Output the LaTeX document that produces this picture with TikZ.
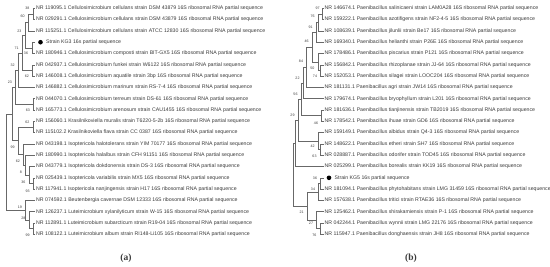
\documentclass[tikz,border=0pt]{standalone}
\usepackage{fontspec}
\setmainfont{Liberation Sans}
\newfontfamily\serifab{Liberation Serif}
\definecolor{ln}{HTML}{686868}
\definecolor{tx}{HTML}{3A3A3A}
\begin{document}
\begin{tikzpicture}[x=1pt,y=-1pt,
 br/.style={draw=ln,line width=0.45pt},
 leaf/.style={anchor=west,inner sep=0pt,font=\fontsize{5.2}{6}\selectfont,text=tx},
 bs/.style={inner sep=0pt,font=\fontsize{3.6}{3.8}\selectfont,text=tx},
 kdot/.style={circle,fill=black,inner sep=0pt,minimum size=4.6pt},
 captxt/.style={font=\serifab\bfseries\fontsize{9.5}{10}\selectfont,text=tx}]
\useasboundingbox (0,0) rectangle (550,266);
% ---------------- left tree leaves ----------------
\foreach \i/\t in {
1/NR 119095.1 Cellulosimicrobium cellulans strain DSM 43879 16S ribosomal RNA partial sequence,
2/NR 029291.1 Cellulosimicrobium cellulans strain DSM 43879 16S ribosomal RNA partial sequence,
3/NR 115251.1 Cellulosimicrobium cellulans strain ATCC 12830 16S ribosomal RNA partial sequence,
5/NR 180946.1 Cellulosimicrobium composti strain BIT-GX5 16S ribosomal RNA partial sequence,
6/NR 042937.1 Cellulosimicrobium funkei strain W6122 16S ribosomal RNA partial sequence,
7/NR 146008.1 Cellulosimicrobium aquatile strain 3bp 16S ribosomal RNA partial sequence,
8/NR 146882.1 Cellulosimicrobium marinum strain RS-7-4 16S ribosomal RNA partial sequence,
9/NR 044070.1 Cellulosimicrobium terreum strain DS-61 16S ribosomal RNA partial sequence,
10/NR 165773.1 Cellulosimicrobium arenosum strain CAU1455 16S ribosomal RNA partial sequence,
11/NR 156060.1 Krasilnikoviella muralis strain T6220-5-2b 16S ribosomal RNA partial sequence,
12/NR 115102.2 Krasilnikoviella flava strain CC 0387 16S ribosomal RNA partial sequence,
13/NR 043198.1 Isoptericola halotolerans strain YIM 70177 16S ribosomal RNA partial sequence,
14/NR 180990.1 Isoptericola halalbus strain CFH 91151 16S ribosomal RNA partial sequence,
15/NR 043779.1 Isoptericola dokdonensis strain DS-3 16S ribosomal RNA partial sequence,
16/NR 025439.1 Isoptericola variabilis strain MX5 16S ribosomal RNA partial sequence,
17/NR 117941.1 Isoptericola nanjingensis strain H17 16S ribosomal RNA partial sequence,
18/NR 074592.1 Beutenbergia cavernae DSM 12333 16S ribosomal RNA partial sequence,
19/NR 126237.1 Luteimicrobium xylanilyticum strain W-15 16S ribosomal RNA partial sequence,
20/NR 112891.1 Luteimicrobium subarcticum strain R19-04 16S ribosomal RNA partial sequence,
21/NR 108122.1 Luteimicrobium album strain RI148-Li105 16S ribosomal RNA partial sequence}{
  \coordinate (ta\i) at (35,{8.3+(\i-1)*11.3});
  \node[leaf] (La\i) at (36,{8.3+(\i-1)*11.3}) {\t};
}
\coordinate (ta4) at (35,42.2);
\node[kdot] (dotA) at (40.5,42.2) {};
\node[leaf] (La4) at (46,42.2) {Strain KG3 16s partial sequence};
% internal nodes (left)
\coordinate (A) at (33,13.95);
\coordinate (B) at (28.2,22.43);
\coordinate (C) at (32.5,47.85);
\coordinate (D) at (24.8,35.14);
\coordinate (E) at (32.5,70.45);
\coordinate (F) at (22.2,52.8);
\coordinate (G) at (18.2,70.1);
\coordinate (H) at (33,104.35);
\coordinate (I) at (15.5,87.23);
\coordinate (J) at (32.8,126.95);
\coordinate (P) at (33,183.45);
\coordinate (Q) at (28.8,174.98);
\coordinate (R) at (25.5,165.09);
\coordinate (N) at (23,154.5);
\coordinate (M) at (18.2,140.72);
\coordinate (L) at (12,113.98);
\coordinate (S) at (33,228.65);
\coordinate (T) at (28.8,220.18);
\coordinate (U) at (25.5,210.29);
\coordinate (Rt) at (6.5,162.1);
\foreach \p/\c in {A/ta1,A/ta2,B/A,B/ta3,C/ta4,C/ta5,D/B,D/C,E/ta6,E/ta7,F/D,F/E,G/F,G/ta8,
  H/ta9,H/ta10,I/G,I/H,J/ta11,J/ta12,P/ta16,P/ta17,Q/ta15,Q/P,R/ta14,R/Q,N/ta13,N/R,M/J,M/N,
  L/I,L/M,S/ta20,S/ta21,T/ta19,T/S,U/ta18,U/T,Rt/L,Rt/U}
  \draw[br] (\p) |- (\c);
% bootstrap labels (left)
\foreach \x/\y/\v in {27.3/8.3/38,22.7/16.7/60,19.3/30.9/23,26/53.3/36,16.7/48/71,12.7/65/32,
  27/76/62,10/82/23,28/110/63,27.3/122/62,12.7/147/99,18/161/62,21/172/8,23.3/182/36,
  27.7/191/93,20/207/19,23.3/218/28,27.7/235/99}
  \node[bs] at (\x,\y) {\v};
% ---------------- right tree leaves ----------------
\foreach \i/\t in {
1/NR 146674.1 Paenibacillus salinicaeni strain LAM0A28 16S ribosomal RNA partial sequence,
2/NR 159222.1 Paenibacillus azotifigens strain NF2-4-5 16S ribosomal RNA partial sequence,
3/NR 108639.1 Paenibacillus jilunlii strain Be17 16S ribosomal RNA partial sequence,
4/NR 169340.1 Paenibacillus helianthi strain P26E 16S ribosomal RNA partial sequence,
5/NR 178486.1 Paenibacillus piscarius strain P121 16S ribosomal RNA partial sequence,
6/NR 156842.1 Paenibacillus rhizoplanae strain JJ-64 16S ribosomal RNA partial sequence,
7/NR 152053.1 Paenibacillus silagei strain LOOC204 16S ribosomal RNA partial sequence,
8/NR 181131.1 Paenibacillus agri strain JW14 16S ribosomal RNA partial sequence,
9/NR 179674.1 Paenibacillus bryophyllum strain L201 16S ribosomal RNA partial sequence,
10/NR 181636.1 Paenibacillus tianjinensis strain TB2019 16S ribosomal RNA partial sequence,
11/NR 178542.1 Paenibacillus ihuae strain GD6 16S ribosomal RNA partial sequence,
12/NR 159149.1 Paenibacillus albidus strain Q4-3 16S ribosomal RNA partial sequence,
13/NR 148622.1 Paenibacillus etheri strain SH7 16S ribosomal RNA partial sequence,
14/NR 028887.1 Paenibacillus odorifer strain TOD45 16S ribosomal RNA partial sequence,
15/NR 025299.1 Paenibacillus borealis strain KK19 16S ribosomal RNA partial sequence,
17/NR 181094.1 Paenibacillus phytohabitans strain LMG 31459 16S ribosomal RNA partial sequence,
18/NR 157638.1 Paenibacillus tritici strain RTAE36 16S ribosomal RNA partial sequence,
19/NR 125462.1 Paenibacillus shirakamiensis strain P-1 16S ribosomal RNA partial sequence,
20/NR 042244.1 Paenibacillus wynnii strain LMG 22176 16S ribosomal RNA partial sequence,
21/NR 115947.1 Paenibacillus donghaensis strain JH8 16S ribosomal RNA partial sequence}{
  \coordinate (tb\i) at (323.5,{8.3+(\i-1)*11.3});
  \node[leaf] (Lb\i) at (324.5,{8.3+(\i-1)*11.3}) {\t};
}
\coordinate (tb16) at (323.5,177.8);
\node[kdot] (dotB) at (329,177.8) {};
\node[leaf] (Lb16) at (334.5,177.8) {Strain KG5 16s partial sequence};
% internal nodes (right)
\coordinate (a) at (322,13.95);
\coordinate (b) at (318.2,22.43);
\coordinate (c) at (316.2,32.3);
\coordinate (f) at (320.5,70.45);
\coordinate (g) at (317.8,61.98);
\coordinate (d) at (312.2,47.14);
\coordinate (h) at (306.5,67.27);
\coordinate (i) at (303,82.98);
\coordinate (k) at (321.5,115.65);
\coordinate (j) at (301,99.3);
\coordinate (m) at (320,149.55);
\coordinate (n) at (318.2,141.08);
\coordinate (l) at (298,120.19);
\coordinate (p) at (295.5,143.35);
\coordinate (q) at (320.5,183.45);
\coordinate (r) at (318.5,191.93);
\coordinate (s) at (320,228.65);
\coordinate (t) at (316.5,220.18);
\coordinate (u) at (307.2,206.05);
\coordinate (rt) at (293,174.7);
\foreach \p/\c in {a/tb1,a/tb2,b/a,b/tb3,c/b,c/tb4,f/tb6,f/tb7,g/tb5,g/f,d/c,d/g,h/d,h/tb8,
  i/h,i/tb9,k/tb10,k/tb11,j/i,j/k,m/tb13,m/tb14,n/tb12,n/m,l/j,l/n,p/l,p/tb15,
  q/tb16,q/tb17,r/q,r/tb18,s/tb20,s/tb21,t/tb19,t/s,u/r,u/t,rt/p,rt/u}
  \draw[br] (\p) |- (\c);
% bootstrap labels (right)
\foreach \x/\y/\v in {317.7/8.3/97,312.7/16.7/76,310.7/27.3/91,306.7/41.7/46,301/61.7/84,
  312.3/68/50,315/76.5/74,297.5/78.3/22,295.5/94.3/56,292.5/115/29,316/123/46,312.7/146/42,
  314.5/156/63,315/178/36,313/189.5/34,301.7/212/21,311/223/27,314.3/235/76}
  \node[bs] at (\x,\y) {\v};
% captions
\node[captxt] (capA) at (126,258) {(a)};
\node[captxt] (capB) at (411,258) {(b)};
\end{tikzpicture}
\end{document}
